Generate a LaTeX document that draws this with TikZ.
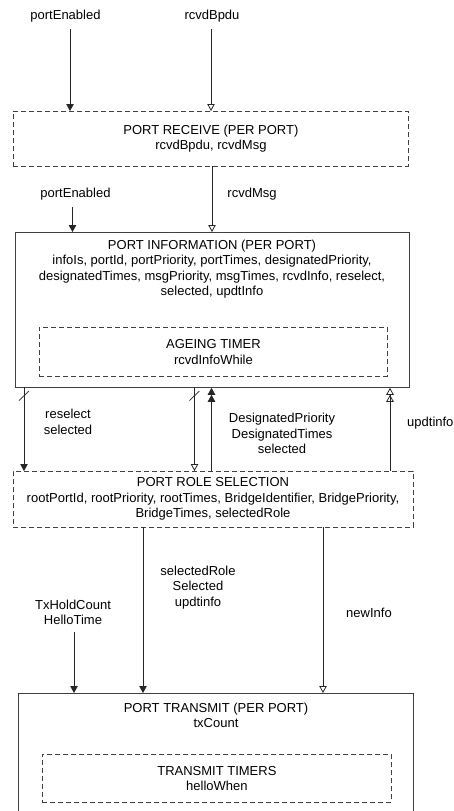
\documentclass[tikz,border=0pt]{standalone}
\usepackage{fontspec}
\setmainfont{Liberation Sans}
\usetikzlibrary{arrows.meta}
\begin{document}
\begin{tikzpicture}[x=1pt,y=-1pt,
  lbl/.style={font=\fontsize{13}{15.4}\selectfont, align=center, inner sep=0pt},
  boxline/.style={draw=black!75, line width=0.8pt, inner sep=0pt, anchor=north west},
  dashbox/.style={boxline, dash pattern=on 5pt off 3pt},
  wire/.style={draw=black!85, line width=0.8pt},
  fl/.style={wire, -{Triangle[width=7.5pt,length=7pt]}},
  op/.style={wire, -{Triangle[open,width=7.5pt,length=7pt]}},
  fltwo/.style={wire, -{Triangle[width=7.5pt,length=7pt] Triangle[width=7.5pt,length=7pt]}},
  optwo/.style={wire, -{Triangle[open,width=7.5pt,length=7pt] Triangle[open,width=7.5pt,length=7pt]}},
  busmark/.style={draw=black!85, line width=0.7pt}
]
\useasboundingbox (0,0) rectangle (454,811);
\clip (0,0) rectangle (454,811);

% ---- boxes ----
\node[dashbox, minimum width=395pt, minimum height=55pt] (recv) at (13,111) {};
\node[lbl] (recvtxt) at (recv.center) {PORT RECEIVE (PER PORT)\\rcvdBpdu, rcvdMsg};

\node[boxline, minimum width=394pt, minimum height=155pt] (info) at (15,232) {};
\node[lbl] (infotxt) at (212,269) {PORT INFORMATION (PER PORT)\\
  infoIs, portId, portPriority, portTimes, designatedPriority,\\
  designatedTimes, msgPriority, msgTimes, rcvdInfo, reselect,\\
  selected, updtInfo};
\node[dashbox, minimum width=348pt, minimum height=49pt] (age) at (39,327) {};
\node[lbl] (agetxt) at (age.center) {AGEING TIMER\\rcvdInfoWhile};

\node[dashbox, minimum width=400pt, minimum height=56pt] (prs) at (13,471) {};
\node[lbl] (prstxt) at (213,499) {PORT ROLE SELECTION\\
  rootPortId, rootPriority, rootTimes, BridgeIdentifier, BridgePriority,\\
  BridgeTimes, selectedRole};

\node[boxline, minimum width=395pt, minimum height=140pt] (tx) at (18,693) {};
\node[lbl] (txtxt) at (216,715.5) {PORT TRANSMIT (PER PORT)\\txCount};
\node[dashbox, minimum width=349pt, minimum height=48pt] (tt) at (42,754) {};
\node[lbl] (tttxt) at (tt.center) {TRANSMIT TIMERS\\helloWhen};

% ---- labels ----
\node[lbl] (lpe1) at (65.5,16) {portEnabled};
\node[lbl] (lbpdu) at (212,16) {rcvdBpdu};
\node[lbl] (lpe2) at (75.5,194) {portEnabled};
\node[lbl] (lmsg) at (252,194) {rcvdMsg};
\node[lbl] (lsel) at (68,422) {reselect\\selected};
\node[lbl] (ldes) at (282,433.5) {DesignatedPriority\\DesignatedTimes\\selected};
\node[lbl, anchor=west] (lupd) at (407,423) {updtinfo};
\node[lbl] (lrole) at (198,587.5) {selectedRole\\Selected\\updtinfo};
\node[lbl] (lhold) at (73,612.5) {TxHoldCount\\HelloTime};
\node[lbl] (lnew) at (369,613) {newInfo};

% ---- connectors ----
\coordinate (spe1) at (70,29);
\coordinate (sbpdu) at (211,29);
\coordinate (spe2) at (72.5,207);
\coordinate (smsg) at (212,166);
\coordinate (sdnA) at (24,387);
\coordinate (sdnB) at (194.5,387);
\coordinate (supA) at (211.5,471);
\coordinate (supB) at (390,471);
\coordinate (srole) at (143,527);
\coordinate (snew) at (323,527);
\coordinate (shold) at (74,632);

\draw[fl] (spe1) -- (spe1 |- recv.north);
\draw[op] (sbpdu) -- (sbpdu |- recv.north);
\draw[fl] (spe2) -- (spe2 |- info.north);
\draw[op] (smsg) -- (smsg |- info.north);
\draw[fl] (sdnA) -- (sdnA |- prs.north);
\draw[op] (sdnB) -- (sdnB |- prs.north);
\draw[fltwo] (supA) -- (supA |- info.south);
\draw[optwo] (supB) -- (supB |- info.south);
\draw[fl] (srole) -- (srole |- tx.north);
\draw[op] (snew) -- (snew |- tx.north);
\draw[fl] (shold) -- (shold |- tx.north);

% bus markers on the downward wires
\draw[busmark] ([shift={(-5,13.5)}]sdnA) -- ([shift={(5,4)}]sdnA);
\draw[busmark] ([shift={(-5,13.5)}]sdnB) -- ([shift={(5,4)}]sdnB);
\end{tikzpicture}
\end{document}
